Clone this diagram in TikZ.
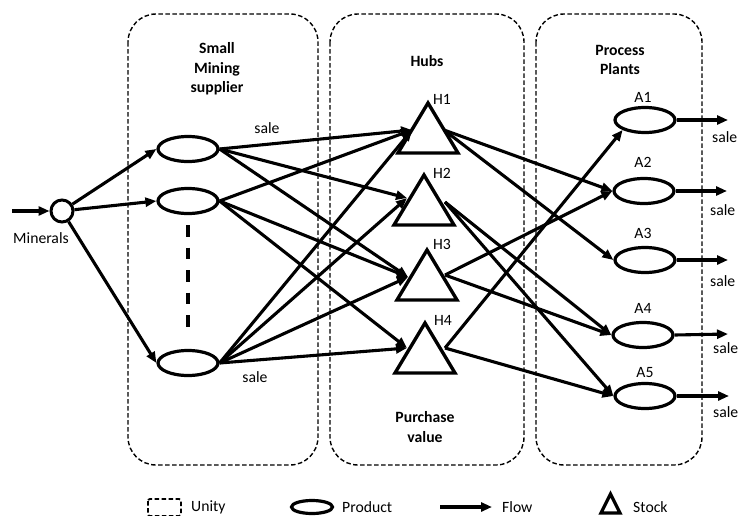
\documentclass[tikz,border=0pt]{standalone}
\usepackage{fontspec}
\setmainfont{Carlito}
\usetikzlibrary{arrows.meta,shapes.geometric}
\begin{document}
\begin{tikzpicture}[x=1pt,y=-1pt,
  every node/.style={font=\fontsize{15.7}{19.5}\selectfont, inner sep=0pt},
  unitbox/.style={draw, line width=1.4pt, dash pattern=on 4.5pt off 2.5pt, rounded corners=28pt},
  prod/.style={draw, ellipse, line width=3.2pt, minimum width=60pt, minimum height=25pt},
  flow/.style={line width=3.1pt, -{Triangle[length=11pt,width=9pt]}},
  stock/.style={draw, line width=3.4pt, line join=miter},
  ttl/.style={font=\bfseries\fontsize{15.7}{19.5}\selectfont, align=center},
  dots/.style={line width=3.6pt, dash pattern=on 11.5pt off 11pt}]
\useasboundingbox (0,0) rectangle (740,515);

% unit boxes
\draw[unitbox] (128,14) rectangle (318,465);
\draw[unitbox] (330,14) rectangle (524,465);
\draw[unitbox] (536,14) rectangle (702,465);

% titles
\node[ttl] (t1) at (217,69) {Small\\Mining\\supplier};
\node[ttl] (t2) at (427,61) {Hubs};
\node[ttl] (t3) at (620,60) {Process\\Plants};
\node[ttl] (t4) at (425,427) {Purchase\\value};

% minerals
\node[draw, circle, line width=3pt, minimum size=22pt] (M) at (62,211) {};
\node (Mlab) at (41,238) {Minerals};
\coordinate (Min) at (12,211);
\draw[flow] (Min) -- (M);

% suppliers
\node[prod] (S1) at (188,149) {};
\node[prod] (S2) at (188,201) {};
\node[prod] (S3) at (188,363) {};
\coordinate (D1) at (188,225);
\coordinate (D2) at (188,328);
\draw[dots] (D1) -- (D2);
\node (sl1) at (267,128) {sale};
\node (sl2) at (255,377) {sale};

% hubs
\foreach \n/\x/\y in {1/428/103, 2/424/175, 3/427/250, 4/425/323} {
  \draw[stock] (\x,\y) -- ++(-30,50) -- ++(60,0) -- cycle;
}
\coordinate (H1in) at (412,130);  \coordinate (H1out) at (444,130);
\coordinate (H2in) at (407,198);  \coordinate (H2out) at (445,202);
\coordinate (H3in) at (408,277);  \coordinate (H3out) at (445,275);
\coordinate (H4in) at (407,348);  \coordinate (H4out) at (445,348);
\node (h1) at (442,99) {H1};
\node (h2) at (442,173) {H2};
\node (h3) at (442,244) {H3};
\node (h4) at (443,320) {H4};

% plants
\node[prod] (A1) at (645,120) {};
\node[prod] (A2) at (644,191) {};
\node[prod] (A3) at (645,260) {};
\node[prod] (A4) at (643,335) {};
\node[prod] (A5) at (645,396) {};
\node (a1) at (643,97) {A1};
\node (a2) at (643,162) {A2};
\node (a3) at (643,233) {A3};
\node (a4) at (643,308) {A4};
\node (a5) at (645,373) {A5};
\coordinate (E1) at (728,120);
\coordinate (E2) at (727,191);
\coordinate (E3) at (728,260);
\coordinate (E4) at (728,334);
\coordinate (E5) at (729,396);
\node[anchor=west] (s1) at (712,137) {sale};
\node[anchor=west] (s2) at (710,210) {sale};
\node[anchor=west] (s3) at (710,281) {sale};
\node[anchor=west] (s4) at (713,348) {sale};
\node[anchor=west] (s5) at (713,412) {sale};

% flows
\draw[flow] (M) -- (S1.west);
\draw[flow] (M) -- (S2.west);
\draw[flow] (M) -- (S3.west);

\draw[flow] (S1.east) -- (H1in);
\draw[flow] (S1.east) -- (H2in);
\draw[flow] (S1.east) -- (H3in);
\draw[flow] (S2.east) -- (H1in);
\draw[flow] (S2.east) -- (H3in);
\draw[flow] (S2.east) -- (H4in);
\draw[flow] (S3.east) -- (H1in);
\draw[flow] (S3.east) -- (H2in);
\draw[flow] (S3.east) -- (H3in);
\draw[flow] (S3.east) -- (H4in);

\draw[flow] (H1out) -- (A2.west);
\draw[flow] (H1out) -- (A3.west);
\draw[flow] (H2out) -- (A4.west);
\draw[flow] (H2out) -- (A5.west);
\draw[flow] (H3out) -- (A2.west);
\draw[flow] (H3out) -- (A4.west);
\draw[flow] (H4out) -- (A1.south west);
\draw[flow] (H4out) -- (A5.west);

\draw[flow] (A1.east) -- (E1);
\draw[flow] (A2.east) -- (E2);
\draw[flow] (A3.east) -- (E3);
\draw[flow] (A4.east) -- (E4);
\draw[flow] (A5.east) -- (E5);

% legend
\draw[unitbox, line width=1.8pt, rounded corners=2pt] (148,499) rectangle (181,516);
\node[anchor=west] (lu) at (191,507) {Unity};
\node[draw, ellipse, line width=3.2pt, minimum width=41pt, minimum height=13pt] (lp) at (312,507) {};
\node[anchor=west] (lpt) at (342,507) {Product};
\coordinate (F1) at (440,507);
\coordinate (F2) at (492,507);
\draw[flow] (F1) -- (F2);
\node[anchor=west] (lf) at (502,507) {Flow};
\draw[stock, line width=3.2pt] (610.5,494) -- (601,513) -- (620,513) -- cycle;
\node[anchor=west] (ls) at (633,507) {Stock};
\end{tikzpicture}
\end{document}
